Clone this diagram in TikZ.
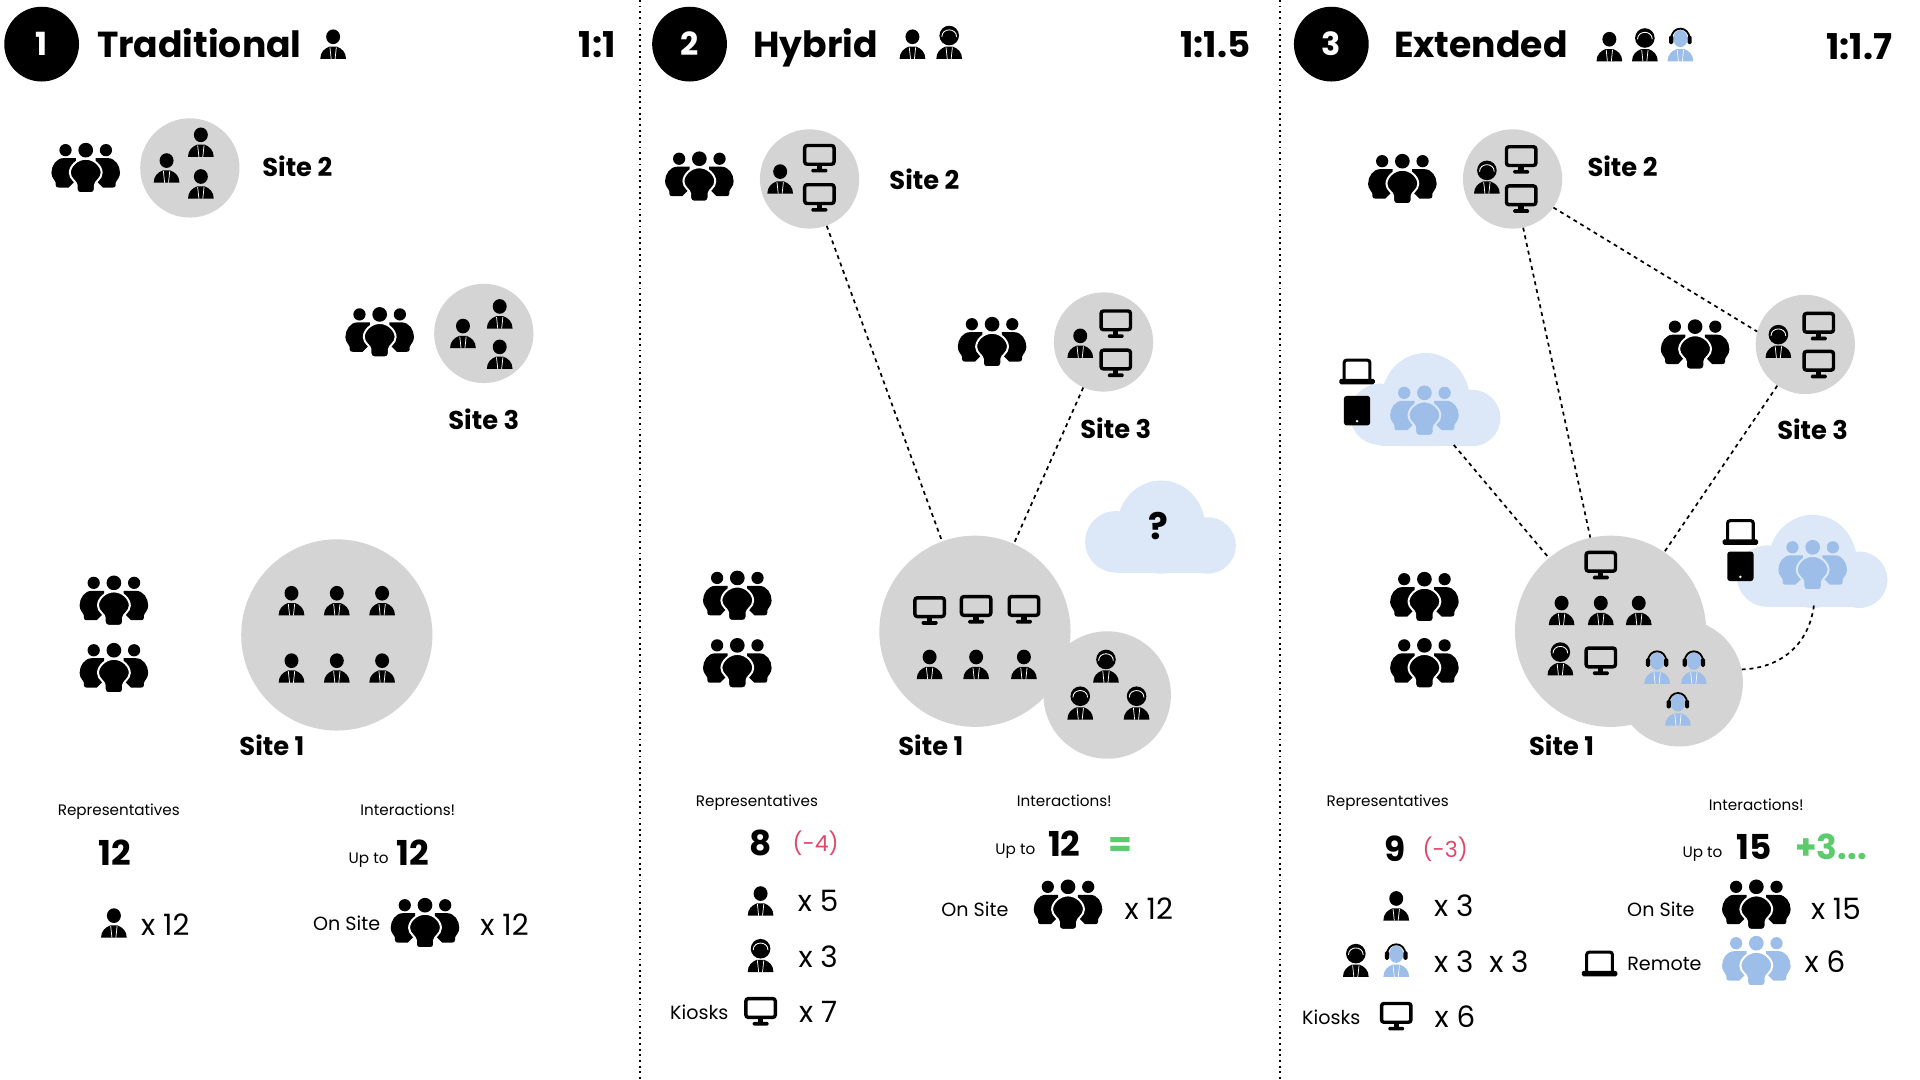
\documentclass[tikz,border=0pt]{standalone}
\usepackage{fontspec}
\setmainfont{Poppins}
\definecolor{sitegrey}{HTML}{D4D4D4}
\definecolor{softblue}{HTML}{9DBEE8}
\definecolor{paleblue}{HTML}{DCE8F7}
\definecolor{minusred}{HTML}{E0486A}
\definecolor{plusgreen}{HTML}{5CCB6C}
\tikzset{
  site/.style={circle,fill=sitegrey,inner sep=0pt,minimum size=81pt},
  bigsite/.style={circle,fill=sitegrey,inner sep=0pt,minimum size=156pt},
  satsite/.style={circle,fill=sitegrey,inner sep=0pt,minimum size=104pt},
  badge/.style={circle,fill=black,text=white,inner sep=0pt,minimum size=61pt,font=\fontsize{26}{30}\selectfont\bfseries,text height=18.2pt,text depth=0pt},
  txt/.style={inner sep=0pt,text depth=0pt},
  titletxt/.style={txt,anchor=west,text height=20.6pt,font=\fontsize{29.5}{32}\selectfont\bfseries},
  ratiotxt/.style={txt,anchor=east,text height=20.3pt,font=\fontsize{29}{32}\selectfont\bfseries},
  sitetxt/.style={txt,text height=14.7pt,font=\fontsize{21}{24}\selectfont\bfseries},
  smalltxt/.style={txt,text height=8.7pt,font=\fontsize{12.4}{16}\selectfont},
  midtxt/.style={txt,text height=10.9pt,font=\fontsize{15.6}{18}\selectfont},
  difftxt/.style={txt,text height=12.6pt,text=minusred,font=\fontsize{18}{22}\selectfont},
  counttxt/.style={txt,text height=16.8pt,font=\fontsize{24}{28}\selectfont},
  bigtxt/.style={txt,text height=19.6pt,font=\fontsize{28}{32}\selectfont\bfseries},
  link/.style={line width=1.4pt,dash pattern=on 3.2pt off 3.2pt,black},
  divider/.style={line width=1.5pt,dash pattern=on 1.5pt off 3.1pt,black},
  pics/person/.style={code={
    \fill[black] (0,-6) ellipse (5.7 and 6);
    \fill[black] (-10.5,12) -- (10.5,12) .. controls (10.5,6.5) and (7,3.5) .. (3,2) -- (-3,2) .. controls (-7,3.5) and (-10.5,6.5) .. (-10.5,12) -- cycle;
    \draw[white,line width=.6pt] (-2.6,2.6) -- (-1.6,12) (2.6,2.6) -- (1.6,12);
  }},
  pics/agent/.style={code={
    \fill[black] (0,-7) ellipse (8 and 8);
    \draw[white,line width=.7pt] (-6,-6) .. controls (-6,-13.5) and (6,-13.5) .. (6,-6);
    \fill[black] (-10.5,12) -- (10.5,12) .. controls (10.5,6.5) and (7,3.5) .. (3,2) -- (-3,2) .. controls (-7,3.5) and (-10.5,6.5) .. (-10.5,12) -- cycle;
    \draw[white,line width=.6pt] (-2.6,2.6) -- (-1.6,12) (2.6,2.6) -- (1.6,12);
  }},
  pics/blueagent/.style={code={
    \fill[softblue] (0,-6.5) ellipse (5.8 and 7);
    \fill[softblue] (-10.5,12) -- (10.5,12) .. controls (10.5,6.5) and (7,3.5) .. (3,2) -- (-3,2) .. controls (-7,3.5) and (-10.5,6.5) .. (-10.5,12) -- cycle;
    \draw[white,line width=.5pt] (-2.6,2.6) -- (-1.6,12) (2.6,2.6) -- (1.6,12);
    \draw[black,line width=1.5pt] (-7.5,-6) .. controls (-7.5,-17.5) and (7.5,-17.5) .. (7.5,-6);
    \fill[black,rounded corners=1.2pt] (-9.2,-9) rectangle (-5.8,-2);
    \fill[black,rounded corners=1.2pt] (9.2,-9) rectangle (5.8,-2);
  }},
  pics/monitor/.style={code={
    \draw[black,line width=2.8pt,rounded corners=2pt] (-12,-10.3) rectangle (12,5);
    \fill[black] (-2.2,6) rectangle (2.2,9.5);
    \fill[black,rounded corners=1pt] (-6.5,8.7) rectangle (6.5,11.7);
  }},
  pics/laptop/.style={code={
    \draw[black,line width=2.5pt,rounded corners=2pt] (-10.5,6.5) -- (-10.5,-9.2) -- (10.5,-9.2) -- (10.5,6.5);
    \fill[black,rounded corners=1.3pt] (-14.5,6) rectangle (14.5,10.5);
  }},
  pics/tablet/.style={code={
    \fill[black,rounded corners=2.2pt] (-10.7,-12) rectangle (10.7,12);
    \fill[white] (0,8.6) circle (1.1);
  }},
  pics/cloudshape/.style={code={
    \fill[paleblue] (0,0) ellipse (36 and 38);
    \fill[paleblue] (-37,12) circle (25);
    \fill[paleblue] (38,15) circle (23);
    \fill[paleblue] (-37,0) rectangle (38,37.5);
  }},
  pics/crowd/.style n args={2}{code={
    \fill[#1] (-16.5,-14.5) circle (5);
    \fill[#1] (16.5,-14.5) circle (5);
    \fill[#1] (0,-14.5) circle (6);
    \foreach \sd in {1,-1}{
      \fill[#1,xscale=\sd] (-18,-8) .. controls (-24,-8) and (-28,-2) .. (-28,4) .. controls (-28,8) and (-25,10) .. (-24.5,12) -- (-24.5,14) .. controls (-24.5,15.5) and (-23.5,16) .. (-22,16) -- (-14,16) -- (-8,10) -- (-8,-8) -- cycle;
    }
    \filldraw[fill=#1,draw=#2,line width=1.6pt] (0,-7.5) .. controls (7,-7.5) and (13,-1.5) .. (13,4) .. controls (13,9) and (7.5,11) .. (7.5,14) -- (7.5,17.5) .. controls (7.5,19.5) and (6,20.5) .. (4.5,20.5) -- (-4.5,20.5) .. controls (-6,20.5) and (-7.5,19.5) .. (-7.5,17.5) -- (-7.5,14) .. controls (-7.5,11) and (-13,9) .. (-13,4) .. controls (-13,-1.5) and (-7,-7.5) .. (0,-7.5) -- cycle;
  }},
}
\begin{document}
\begin{tikzpicture}[x=0.9992pt,y=-1pt]
\useasboundingbox (0,0) rectangle (1567.65,881);
\fill[white] (0,0) rectangle (1567.65,881);
% dividers
\coordinate (d1a) at (522.4,0); \coordinate (d1b) at (522.4,881);
\coordinate (d2a) at (1045.3,0); \coordinate (d2b) at (1045.3,881);
\draw[divider] (d1a) -- (d1b);
\draw[divider] (d2a) -- (d2b);

%% ---------- panel 1
\node[badge] (b1) at (34,36) {1};
\node[titletxt] (t1) at (79,36.5) {Traditional};
\node[ratiotxt] (r1) at (503,36.5) {1:1};
\pic at (272,36) {person};
\node[site] (a2) at (155,137) {};
\node[site] (a3) at (395,272) {};
\node[bigsite] (a1) at (275,518) {};
\pic at (164,116) {person}; \pic at (136,137) {person}; \pic at (164,150) {person};
\pic at (408,256) {person}; \pic at (378,272) {person}; \pic at (408,289) {person};
\foreach \px in {238,275,312}{ \pic at (\px,490) {person}; \pic at (\px,545) {person}; }
\pic at (70,137) {crowd={black}{white}};
\pic at (310,271) {crowd={black}{white}};
\pic at (93,490) {crowd={black}{white}};
\pic at (93,545) {crowd={black}{white}};
\node[sitetxt,anchor=west] (a2l) at (214,137) {Site 2};
\node[sitetxt] (a3l) at (395,343) {Site 3};
\node[sitetxt] (a1l) at (222,609) {Site 1};
\node[smalltxt] (arep) at (97,661) {Representatives};
\node[bigtxt] (anum) at (94,696) {12};
\pic at (93,753) {person};
\node[counttxt] (acnt) at (135,755) {x 12};
\node[smalltxt] (aint) at (333,661) {Interactions!};
\node[smalltxt] (aup) at (301,700) {Up to};
\node[bigtxt] (ainum) at (337,696) {12};
\node[midtxt] (aon) at (283,754) {On Site};
\pic at (347,753) {crowd={black}{white}};
\node[counttxt] (aicnt) at (412,755) {x 12};

%% ---------- panel 2
\node[badge] (b2) at (563,36) {2};
\node[titletxt] (t2) at (615,36.5) {Hybrid};
\node[ratiotxt] (r2) at (1021,36.5) {1:1.5};
\pic at (745,36) {person}; \pic at (775,36) {agent};
\node[site] (h2) at (661,146) {};
\node[site] (h3) at (901,279) {};
\node[bigsite] (h1) at (796,515) {};
\node[satsite] (hs) at (904,567) {};
\pic at (948,430) {cloudshape};
\node[txt,text height=21pt,font=\fontsize{30}{34}\selectfont\bfseries] (hq) at (946,430) {?};
\draw[link] (h2) -- (h1);
\draw[link] (h3) -- (h1);
\pic at (637,146) {person}; \pic at (669,129) {monitor}; \pic at (669,161) {monitor};
\pic at (882,280) {person}; \pic at (911,264) {monitor}; \pic at (911,296) {monitor};
\pic at (759,498) {monitor}; \pic at (797,497) {monitor}; \pic at (836,497) {monitor};
\foreach \px in {759,797,836}{ \pic at (\px,542) {person}; }
\pic at (903,545) {agent}; \pic at (882,575) {agent}; \pic at (928,575) {agent};
\pic at (571,144) {crowd={black}{white}};
\pic at (810,279) {crowd={black}{white}};
\pic at (602,486) {crowd={black}{white}};
\pic at (602,541) {crowd={black}{white}};
\node[sitetxt,anchor=west] (h2l) at (726,147) {Site 2};
\node[sitetxt] (h3l) at (911,350) {Site 3};
\node[sitetxt] (h1l) at (760,609) {Site 1};
\node[smalltxt] (hrep) at (618,654) {Representatives};
\node[bigtxt] (hnum) at (621,688) {8};
\node[difftxt] (hdif) at (666,688) {(-4)};
\pic at (621,735) {person};
\node[counttxt] (hc1) at (668,735) {x 5};
\pic at (621,781) {agent};
\node[counttxt] (hc2) at (668,781) {x 3};
\node[midtxt] (hk) at (571,826) {Kiosks};
\pic at (621,825) {monitor};
\node[counttxt] (hc3) at (668,826) {x 7};
\node[smalltxt] (hint) at (869,654) {Interactions!};
\node[smalltxt] (hup) at (829,693) {Up to};
\node[bigtxt] (hinum) at (869,689) {12};
\node[bigtxt,text=plusgreen] (heq) at (915,689) {=};
\node[midtxt] (hon) at (796,742) {On Site};
\pic at (872,738) {crowd={black}{white}};
\node[counttxt] (hicnt) at (938,742) {x 12};

%% ---------- panel 3
\node[badge] (b3) at (1087,36) {3};
\node[titletxt] (t3) at (1138,36.5) {Extended};
\node[ratiotxt] (r3) at (1545,38) {1:1.7};
\pic at (1314,38) {person}; \pic at (1343,38) {agent}; \pic at (1372,38) {blueagent};
\node[site] (e2) at (1235,146) {};
\node[site] (e3) at (1474,281) {};
\node[bigsite] (e1) at (1315,515) {};
\node[satsite] (es) at (1371,557) {};
\pic at (1164,326) {cloudshape};
\pic at (1480,458) {cloudshape};
\coordinate (ec1) at (1187,363);
\coordinate (ec2) at (1481,494);
\draw[link] (e2) -- (e1);
\draw[link] (e2.-35) -- (e3.165);
\draw[link] (e3) -- (e1);
\draw[link] (ec1) -- (e1);
\draw[link] (ec2) .. controls (1477,525) and (1455,545) .. (es.12);
\pic at (1214,146) {agent}; \pic at (1242,130) {monitor}; \pic at (1242,162) {monitor};
\pic at (1452,280) {agent}; \pic at (1485,266) {monitor}; \pic at (1485,297) {monitor};
\pic at (1307,461) {monitor};
\foreach \px in {1275,1307,1338}{ \pic at (\px,498) {person}; }
\pic at (1274,539) {agent}; \pic at (1307,539) {monitor};
\pic at (1353,546) {blueagent}; \pic at (1383,546) {blueagent}; \pic at (1370,580) {blueagent};
\pic at (1145,146) {crowd={black}{white}};
\pic at (1384,281) {crowd={black}{white}};
\pic at (1163,487) {crowd={black}{white}};
\pic at (1163,541) {crowd={black}{white}};
\pic at (1163,335) {crowd={softblue}{paleblue}};
\pic at (1480,461) {crowd={softblue}{paleblue}};
\pic at (1108,303) {laptop}; \pic at (1108,335) {tablet};
\pic at (1421,434) {laptop}; \pic at (1421,462) {tablet};
\node[sitetxt,anchor=west] (e2l) at (1296,137) {Site 2};
\node[sitetxt] (e3l) at (1480,351) {Site 3};
\node[sitetxt] (e1l) at (1275,609) {Site 1};
\node[smalltxt] (erep) at (1133,654) {Representatives};
\node[bigtxt] (enum) at (1139,693) {9};
\node[difftxt] (edif) at (1180,693) {(-3)};
\pic at (1140,739) {person};
\node[counttxt] (ec1l) at (1187,739) {x 3};
\pic at (1107,785) {agent}; \pic at (1140,785) {blueagent};
\node[counttxt] (ec2l) at (1187,785) {x 3};
\node[counttxt] (ec3l) at (1232,785) {x 3};
\node[midtxt] (ek) at (1087,830) {Kiosks};
\pic at (1140,829) {monitor};
\node[counttxt] (ec4l) at (1188,830) {x 6};
\node[smalltxt] (eint) at (1434,657) {Interactions!};
\node[smalltxt] (eup) at (1390,695) {Up to};
\node[bigtxt] (einum) at (1432,691) {15};
\node[bigtxt,text=plusgreen] (eplus) at (1495,691) {+3...};
\node[midtxt] (eon) at (1356,742) {On Site};
\pic at (1434,738) {crowd={black}{white}};
\node[counttxt] (eicnt) at (1499,742) {x 15};
\pic at (1306,786) {laptop};
\node[midtxt] (erem) at (1359,786) {Remote};
\pic at (1434,784) {crowd={softblue}{white}};
\node[counttxt] (eicnt2) at (1490,785) {x 6};
\end{tikzpicture}
\end{document}
